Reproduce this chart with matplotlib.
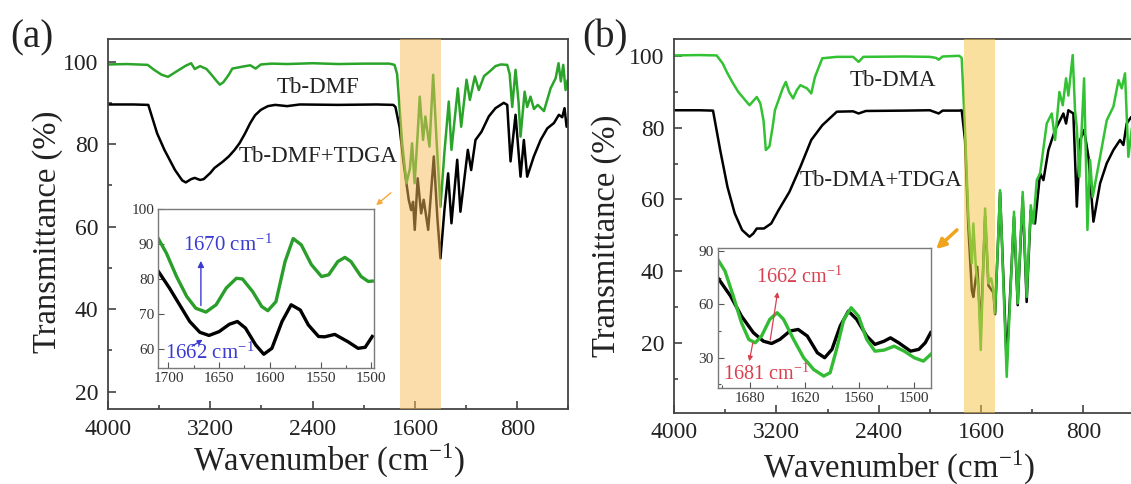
import numpy as np
import matplotlib
matplotlib.use("Agg")
import matplotlib.pyplot as plt
from matplotlib.ticker import MultipleLocator

plt.rcParams['font.family'] = ['Liberation Serif', 'DejaVu Serif']
plt.rcParams['mathtext.fontset'] = 'stix'

# ---- panel (a): Tb-DMF ----
a_green_wn = [4000, 3850, 3690, 3640, 3580, 3531, 3470, 3392, 3350, 3322, 3280, 3230, 3196, 3154,
              3126, 3098, 3056, 3028, 2944, 2888, 2846, 2805, 2721, 2600, 2400, 2200, 2000, 1800,
              1760, 1740, 1700, 1667, 1640, 1623, 1603, 1580, 1563, 1537, 1519, 1487, 1458, 1430,
              1401, 1370, 1336, 1315, 1290, 1265, 1239, 1197, 1171, 1132, 1101, 1060, 1020, 971,
              930, 879, 860, 840, 814, 790, 775, 743, 723, 697, 670, 640, 592, 540, 500, 478, 460,
              441, 423, 405, 400]
a_green_t = [99.3, 99.4, 99.2, 98.0, 96.8, 96.3, 97.5, 99.0, 99.6, 98.2, 98.9, 98.2, 97.0, 95.4,
             94.4, 95.0, 96.8, 98.3, 98.8, 99.1, 98.3, 99.3, 99.5, 99.4, 99.6, 99.4, 99.5, 99.5,
             99.2, 97.0, 80.0, 70.5, 74.0, 80.2, 70.5, 82.0, 91.5, 81.0, 86.7, 79.4, 96.8, 80.0,
             64.8, 78.0, 90.3, 78.6, 86.0, 93.5, 84.2, 95.6, 90.7, 96.4, 93.1, 96.5, 97.5, 98.9,
             99.3, 99.2, 97.0, 89.0, 98.0, 90.0, 81.8, 92.7, 89.0, 91.5, 88.5, 89.5, 88.0, 93.5,
             96.0, 99.6, 95.2, 99.2, 93.1, 95.6, 95.0]
a_black_wn = [4000, 3800, 3685, 3650, 3616, 3559, 3476, 3420, 3392, 3350, 3322, 3280, 3252, 3200,
              3168, 3100, 3056, 3010, 2972, 2930, 2888, 2850, 2805, 2750, 2693, 2600, 2500, 2200,
              1900, 1770, 1753, 1720, 1689, 1649, 1630, 1615, 1602, 1579, 1552, 1532, 1497, 1453,
              1425, 1401, 1370, 1341, 1315, 1270, 1245, 1187, 1161, 1127, 1080, 1023, 971, 906,
              879, 853, 814, 775, 749, 723, 671, 618, 566, 514, 475, 449, 431, 415, 400]
a_black_t = [89.6, 89.6, 89.5, 86.0, 82.6, 78.6, 73.7, 71.2, 70.7, 71.5, 71.8, 71.3, 71.5, 73.0,
             74.2, 75.8, 77.0, 78.6, 80.2, 82.5, 85.1, 87.0, 88.3, 89.2, 89.5, 89.2, 89.6, 89.5,
             89.6, 89.5, 89.0, 84.0, 75.4, 66.5, 64.0, 66.0, 59.2, 71.7, 63.2, 66.5, 59.2, 77.0,
             62.0, 52.3, 64.0, 72.9, 60.8, 76.2, 63.6, 78.6, 73.7, 81.0, 83.0, 86.7, 88.7, 90.0,
             89.5, 75.8, 87.1, 72.1, 81.0, 72.1, 77.0, 81.0, 83.8, 85.1, 87.1, 86.5, 88.7, 84.2,
             85.9]
# inset (a)
ia_green_wn = [1710, 1702, 1692, 1682, 1673, 1663, 1653, 1643, 1633, 1627, 1617, 1608, 1602, 1594,
               1585, 1577, 1569, 1559, 1549, 1542, 1533, 1526, 1520, 1510, 1503, 1499]
ia_green_t = [91.6, 87.4, 80.7, 75.0, 71.6, 70.5, 72.6, 77.4, 80.2, 80.0, 76.4, 72.1, 70.9, 73.5,
              85.0, 91.6, 89.8, 84.1, 80.7, 81.2, 85.0, 86.2, 85.0, 80.7, 79.3, 79.4]
ia_black_wn = [1710, 1699, 1689, 1679, 1669, 1660, 1650, 1640, 1632, 1624, 1614, 1606, 1598, 1588,
               1579, 1570, 1562, 1552, 1546, 1536, 1523, 1513, 1506, 1499]
ia_black_t = [82.2, 77.4, 72.6, 67.8, 64.7, 63.8, 64.9, 67.0, 67.8, 65.9, 61.1, 58.4, 60.1, 67.8,
              72.6, 71.1, 66.8, 63.5, 63.4, 64.1, 62.0, 60.1, 60.4, 63.5]

# ---- panel (b): Tb-DMA ----
b_green_wn = [4000, 3800, 3667, 3620, 3582, 3540, 3497, 3450, 3410, 3353, 3325, 3300, 3282, 3254,
              3230, 3211, 3183, 3150, 3126, 3100, 3069, 3040, 3012, 2960, 2927, 2898, 2841, 2727,
              2600, 2557, 2520, 2200, 2000, 1950, 1931, 1900, 1770, 1751, 1725, 1699, 1672, 1660,
              1639, 1620, 1602, 1568, 1542, 1520, 1503, 1490, 1451, 1399, 1342, 1313, 1274, 1243,
              1211, 1191, 1164, 1138, 1086, 1047, 1021, 987, 961, 935, 917, 883, 865, 851, 831,
              794, 768, 747, 727, 669, 617, 565, 525, 500, 474, 448, 420, 400]
b_green_t = [100.2, 100.3, 100.2, 98.0, 95.2, 92.5, 90.0, 88.0, 86.3, 88.6, 86.8, 82.0, 73.8, 74.8,
             80.0, 84.9, 87.7, 91.0, 92.8, 90.0, 88.2, 90.5, 91.9, 91.0, 89.6, 94.2, 99.4, 99.8,
             99.8, 98.4, 99.8, 99.9, 99.8, 99.5, 99.0, 99.9, 100.1, 99.5, 79.4, 55.2, 42.2, 53.3,
             40.3, 35.0, 18.0, 57.5, 36.6, 38.0, 34.7, 28.2, 62.6, 10.5, 56.6, 31.0, 62.1, 32.8,
             58.4, 53.3, 65.4, 67.3, 81.2, 84.0, 76.6, 90.0, 86.3, 93.8, 89.0, 100.3, 84.9, 80.0,
             66.3, 93.8, 51.5, 71.0, 60.7, 71.9, 82.1, 85.9, 93.3, 91.0, 95.2, 71.9, 80.0, 78.0]
b_black_wn = [4000, 3800, 3695, 3639, 3582, 3525, 3468, 3410, 3380, 3353, 3297, 3240, 3183, 3098,
              3012, 2927, 2841, 2727, 2600, 2557, 2500, 2200, 2000, 1931, 1900, 1770, 1751, 1725,
              1699, 1672, 1660, 1629, 1602, 1568, 1542, 1503, 1490, 1451, 1399, 1342, 1313, 1274,
              1243, 1211, 1178, 1138, 1112, 1073, 1021, 982, 956, 935, 917, 878, 851, 825, 794,
              760, 721, 669, 617, 565, 513, 487, 461, 426, 400]
b_black_t = [84.9, 84.9, 84.8, 73.8, 63.5, 56.1, 51.5, 49.6, 50.5, 51.9, 51.9, 53.3, 57.0, 62.1,
             69.1, 76.6, 80.7, 84.5, 84.6, 84.0, 84.7, 84.8, 84.9, 84.0, 84.8, 84.8, 84.9, 76.6,
             52.4, 34.7, 32.8, 41.2, 23.5, 55.2, 36.0, 34.0, 28.0, 62.0, 14.3, 55.2, 30.5, 60.7,
             31.4, 57.0, 53.3, 67.3, 65.4, 73.8, 79.4, 82.1, 84.0, 81.2, 84.9, 84.0, 58.0, 76.6,
             79.4, 71.9, 53.8, 64.5, 70.1, 73.8, 76.6, 75.2, 81.2, 83.0, 83.5]
# inset (b)
ib_green_wn = [1715, 1707, 1698, 1689, 1681, 1674, 1667, 1658, 1650, 1643, 1632, 1621, 1610, 1599,
               1592, 1585, 1577, 1569, 1561, 1552, 1543, 1533, 1522, 1511, 1500, 1490, 1482]
ib_green_t = [85.3, 78.7, 64.7, 49.7, 40.3, 38.4, 42.2, 51.6, 55.3, 51.6, 40.3, 30.0, 23.4, 19.7,
              21.6, 34.7, 51.6, 58.1, 53.4, 40.3, 33.7, 34.3, 36.5, 33.7, 30.0, 28.1, 31.9]
ib_black_wn = [1715, 1701, 1689, 1676, 1665, 1656, 1647, 1636, 1627, 1617, 1606, 1598, 1590, 1581,
               1572, 1563, 1552, 1543, 1533, 1526, 1517, 1504, 1495, 1488, 1482]
ib_black_t = [75.0, 64.7, 53.4, 44.1, 39.3, 38.0, 40.3, 45.0, 45.9, 42.2, 32.8, 30.0, 34.7, 47.8,
              56.2, 51.6, 42.2, 37.5, 39.3, 41.2, 38.4, 33.7, 34.7, 38.4, 44.1]

W, H = 1131, 484
fig = plt.figure(figsize=(W / 100, H / 100), dpi=100)


def style_main(ax, ylim):
    ax.set_xlim(4000, 400)
    ax.set_ylim(*ylim)
    ax.xaxis.set_major_locator(MultipleLocator(800))
    ax.xaxis.set_minor_locator(MultipleLocator(400))
    ax.yaxis.set_major_locator(MultipleLocator(20))
    ax.yaxis.set_minor_locator(MultipleLocator(10))
    ax.tick_params(which='both', direction='in', labelsize=17, colors='#333333',
                   labelcolor='#222222', width=1.1)
    ax.tick_params(which='major', length=6, pad=7)
    ax.tick_params(which='minor', length=3)
    for s in ax.spines.values():
        s.set_color('#444444')
        s.set_linewidth(1.3)
    ax.set_xlabel('Wavenumber (cm$^{\\mathregular{-1}}$)', fontsize=23.5, color='#222222')
    ax.set_ylabel('Transmittance (%)', fontsize=23.5, color='#222222')


def style_inset(ax):
    ax.tick_params(which='both', direction='in', labelsize=11, colors='#555555',
                   labelcolor='#333333', width=0.8, pad=3)
    ax.tick_params(which='major', length=4)
    ax.tick_params(which='minor', length=2)
    for s in ax.spines.values():
        s.set_color('#7a7a7a')
        s.set_linewidth(1.0)


# ---------------- panel (a) ----------------
axa = fig.add_axes([108 / W, 1 - 409.3 / H, 460.5 / W, 370 / H])
axa.plot(a_black_wn, a_black_t, color='black', lw=1.8, zorder=2)
axa.plot(a_green_wn, a_green_t, color='#2aa52a', lw=1.8, zorder=2)
axa.axvspan(1720, 1400, color='#f7bd59', alpha=0.5, lw=0, zorder=3)
style_main(axa, (15.7, 105.4))
axa.xaxis.set_label_coords(0.48, -0.085)
axa.yaxis.set_label_coords(-0.097, 0.48)
axa.text(2356, 93.6, 'Tb-DMF', fontsize=16.5, ha='center', va='center', color='#222222')
axa.text(2356, 77.0, 'Tb-DMF+TDGA', fontsize=16.5, ha='center', va='center', color='#222222',
         zorder=1)
fig.text(10 / W, 1 - 38 / H, '(a)', fontsize=28, ha='left', va='center', color='#222222')

ina = fig.add_axes([158.3 / W, 1 - 367.5 / H, 216 / W, 158.2 / H])
ina.plot(ia_black_wn, ia_black_t, color='black', lw=2.4, solid_joinstyle='round')
ina.plot(ia_green_wn, ia_green_t, color='#2a9e2a', lw=2.4, solid_joinstyle='round')
ina.set_xlim(1710, 1497)
ina.set_ylim(54.6, 100)
ina.xaxis.set_major_locator(MultipleLocator(50))
ina.xaxis.set_minor_locator(MultipleLocator(25))
ina.yaxis.set_major_locator(MultipleLocator(10))
style_inset(ina)
blue = '#3b3bd0'
ina.text(1686, 89.8, '1670 cm$^{\\mathregular{-1}}$', fontsize=15, color=blue,
         ha='left', va='center')
ina.annotate('', xy=(1668, 86.0), xytext=(1668, 71.6),
             arrowprops=dict(arrowstyle='-|>', color=blue, lw=1.0, mutation_scale=9))
ina.text(1703.5, 58.7, '1662 cm$^{\\mathregular{-1}}$', fontsize=15, color=blue,
         ha='left', va='center')
ina.annotate('', xy=(1664, 63.0), xytext=(1679, 60.3),
             arrowprops=dict(arrowstyle='-|>', color=blue, lw=1.0, mutation_scale=7))
fig.add_artist(matplotlib.patches.FancyArrowPatch(
    (393 / W, 1 - 191 / H), (374 / W, 1 - 207 / H), transform=fig.transFigure,
    arrowstyle='-|>', mutation_scale=8, color='#f5a93a', lw=1.0))

# ---------------- panel (b) ----------------
axb = fig.add_axes([674 / W, 1 - 412.7 / H, 460.5 / W, 373.4 / H])
axb.plot(b_black_wn, b_black_t, color='black', lw=1.8, zorder=2)
axb.plot(b_green_wn, b_green_t, color='#33c233', lw=1.8, zorder=2)
axb.axvspan(1730, 1490, color='#f5c341', alpha=0.5, lw=0, zorder=3)
style_main(axb, (0.5, 104.7))
axb.xaxis.set_label_coords(0.49, -0.095)
axb.yaxis.set_label_coords(-0.113, 0.473)
axb.text(2288, 93.3, 'Tb-DMA', fontsize=16.5, ha='center', va='center', color='#222222')
axb.text(2378, 65.4, 'Tb-DMA+TDGA', fontsize=16.5, ha='center', va='center', color='#222222',
         zorder=1)
fig.text(582 / W, 1 - 38 / H, '(b)', fontsize=28, ha='left', va='center', color='#222222')

inb = fig.add_axes([717.7 / W, 1 - 388 / H, 213 / W, 139.7 / H])
inb.plot(ib_black_wn, ib_black_t, color='black', lw=2.4, solid_joinstyle='round')
inb.plot(ib_green_wn, ib_green_t, color='#33bb33', lw=2.4, solid_joinstyle='round')
inb.set_xlim(1715, 1482)
inb.set_ylim(13, 91.5)
inb.xaxis.set_major_locator(MultipleLocator(60))
inb.xaxis.set_minor_locator(MultipleLocator(30))
inb.yaxis.set_major_locator(MultipleLocator(30))
inb.yaxis.set_minor_locator(MultipleLocator(15))
style_inset(inb)
red = '#d9404f'
inb.text(1673, 75.4, '1662 cm$^{\\mathregular{-1}}$', fontsize=14.5, color=red,
         ha='left', va='center')
inb.annotate('', xy=(1649, 68.5), xytext=(1658, 38.4),
             arrowprops=dict(arrowstyle='-|>', color=red, lw=0.9, mutation_scale=7))
inb.text(1709.5, 20.6, '1681 cm$^{\\mathregular{-1}}$', fontsize=14.5, color=red,
         ha='left', va='center')
inb.annotate('', xy=(1681, 26.5), xytext=(1676, 40),
             arrowprops=dict(arrowstyle='-|>', color=red, lw=0.9, mutation_scale=7))
fig.add_artist(matplotlib.patches.FancyArrowPatch(
    (959 / W, 1 - 228 / H), (934 / W, 1 - 251 / H), transform=fig.transFigure,
    arrowstyle='-|>', mutation_scale=14, color='#f0a41e', lw=2.5))

fig.savefig('out.png', dpi=100)
